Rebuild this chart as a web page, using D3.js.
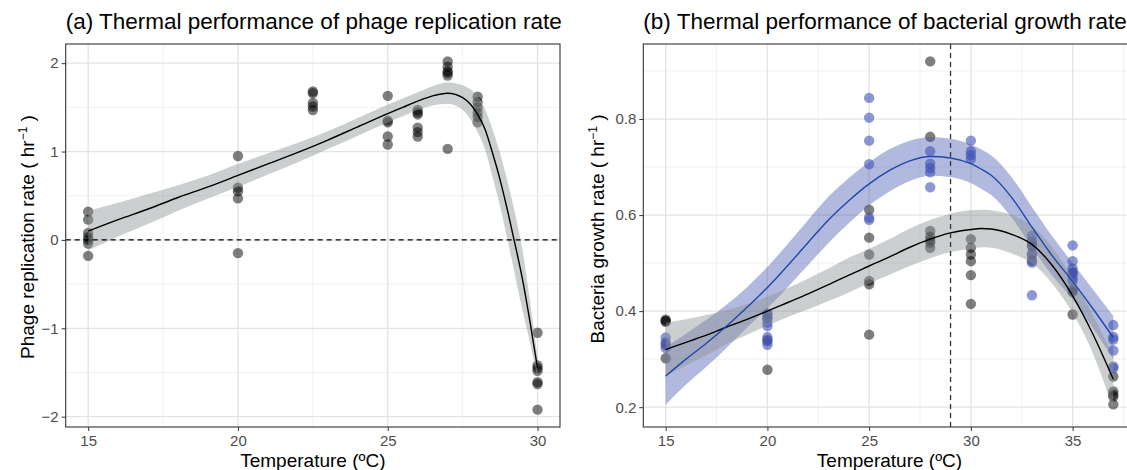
<!DOCTYPE html>
<html>
<head>
<meta charset="utf-8">
<script src="https://cdn.jsdelivr.net/npm/d3@7"></script>
<style>
	body { margin: 0; background: #fff; }
	svg { display: block; font-family: "Liberation Sans", Arial, Helvetica, sans-serif; }
</style>
</head>
<body>
<svg id="chart" width="1127" height="470"></svg>
<script>

// ---- (a) phage replication rate ----
const PHAGE_T = [15, 15, 15, 15, 15, 15, 15,
	20, 20, 20, 20, 20,
	22.5, 22.5, 22.5, 22.5, 22.5,
	25, 25, 25, 25, 25,
	26, 26, 26, 26, 26, 26,
	27, 27, 27, 27, 27, 27,
	28, 28, 28, 28, 28, 28,
	30, 30, 30, 30, 30, 30, 30];
const PHAGE_RATE = [0.32, 0.23, 0.08, 0.03, 0.00, -0.04, -0.18,
	0.95, 0.59, 0.55, 0.47, -0.15,
	1.68, 1.66, 1.55, 1.51, 1.47,
	1.63, 1.35, 1.33, 1.17, 1.08,
	1.47, 1.44, 1.42, 1.27, 1.22, 1.17,
	2.02, 1.96, 1.91, 1.89, 1.86, 1.03,
	1.62, 1.56, 1.50, 1.44, 1.39, 1.33,
	-1.05, -1.42, -1.45, -1.48, -1.61, -1.63, -1.92];

const PHAGE_FIT_T = [15, 16, 17, 18, 19, 20, 21, 22, 23, 24, 25, 25.5, 26, 26.5, 27, 27.5, 28, 28.25, 28.5, 28.75, 29, 29.25, 29.5, 29.75, 30];
const PHAGE_FIT = [0.10, 0.23, 0.35, 0.48, 0.60, 0.73, 0.86, 0.99, 1.13, 1.28, 1.43, 1.50, 1.57, 1.63, 1.66, 1.61, 1.42, 1.25, 0.98, 0.68, 0.33, -0.05, -0.45, -0.93, -1.45];
const PHAGE_HI = [0.33, 0.42, 0.52, 0.62, 0.73, 0.86, 0.98, 1.10, 1.23, 1.38, 1.53, 1.60, 1.67, 1.74, 1.78, 1.75, 1.62, 1.48, 1.25, 0.98, 0.66, 0.30, -0.12, -0.70, -1.33];
const PHAGE_LO = [-0.12, 0.04, 0.18, 0.33, 0.47, 0.60, 0.74, 0.88, 1.03, 1.18, 1.33, 1.40, 1.47, 1.52, 1.54, 1.47, 1.22, 1.02, 0.71, 0.38, 0.00, -0.40, -0.80, -1.16, -1.57];

// ---- (b) bacterial growth rate: grey = bacteria alone, blue = second treatment ----
const GREY_T = [15, 15, 15, 15, 15,
	20, 20, 20, 20,
	25, 25, 25, 25, 25, 25,
	28, 28, 28, 28, 28, 28, 28,
	30, 30, 30, 30, 30, 30,
	33, 33, 33, 33,
	35, 35, 35, 35,
	37, 37, 37, 37, 37];
const GREY_RATE = [0.382, 0.380, 0.378, 0.330, 0.302,
	0.395, 0.385, 0.340, 0.278,
	0.611, 0.553, 0.518, 0.463, 0.456, 0.351,
	0.920, 0.763, 0.567, 0.555, 0.548, 0.543, 0.532,
	0.550, 0.532, 0.518, 0.504, 0.475, 0.415,
	0.545, 0.536, 0.520, 0.505,
	0.480, 0.445, 0.440, 0.393,
	0.264, 0.233, 0.226, 0.222, 0.206];

const BLUE_T = [15, 15, 15,
	20, 20, 20, 20, 20, 20, 20,
	25, 25, 25, 25, 25, 25,
	28, 28, 28, 28, 28,
	30, 30, 30, 30,
	33, 33, 33, 33, 33,
	35, 35, 35, 35, 35, 35,
	37, 37, 37, 37, 37, 37];
const BLUE_RATE = [0.345, 0.335, 0.323,
	0.393, 0.385, 0.376, 0.369, 0.346, 0.337, 0.330,
	0.844, 0.803, 0.755, 0.706, 0.595, 0.590,
	0.733, 0.707, 0.698, 0.689, 0.658,
	0.755, 0.733, 0.725, 0.717,
	0.557, 0.536, 0.515, 0.501, 0.433,
	0.537, 0.504, 0.489, 0.480, 0.470, 0.463,
	0.371, 0.346, 0.341, 0.318, 0.285, 0.281];

const FIT_T = [15, 16, 17, 18, 19, 20, 21, 22, 23, 24, 25, 26, 27, 28, 29, 30, 30.5, 31, 32, 33, 34, 35, 36, 37];
const GREY_FIT = [0.320, 0.335, 0.350, 0.367, 0.383, 0.400, 0.418, 0.436, 0.455, 0.475, 0.494, 0.513, 0.533, 0.550, 0.563, 0.570, 0.572, 0.571, 0.560, 0.539, 0.495, 0.432, 0.352, 0.258];
const GREY_HI = [0.376, 0.383, 0.392, 0.402, 0.415, 0.430, 0.448, 0.468, 0.489, 0.511, 0.530, 0.550, 0.572, 0.590, 0.603, 0.610, 0.611, 0.610, 0.600, 0.578, 0.533, 0.468, 0.392, 0.305];
const GREY_LO = [0.264, 0.287, 0.308, 0.332, 0.351, 0.370, 0.388, 0.404, 0.421, 0.439, 0.458, 0.476, 0.494, 0.510, 0.523, 0.530, 0.533, 0.532, 0.520, 0.500, 0.457, 0.396, 0.312, 0.195];
const BLUE_FIT = [0.265, 0.300, 0.333, 0.369, 0.408, 0.449, 0.495, 0.543, 0.590, 0.630, 0.665, 0.693, 0.713, 0.722, 0.719, 0.707, 0.696, 0.683, 0.637, 0.575, 0.515, 0.462, 0.405, 0.345];
const BLUE_HI = [0.325, 0.353, 0.382, 0.414, 0.450, 0.492, 0.540, 0.590, 0.638, 0.677, 0.710, 0.737, 0.755, 0.762, 0.759, 0.747, 0.737, 0.724, 0.679, 0.617, 0.556, 0.500, 0.445, 0.390];
const BLUE_LO = [0.205, 0.247, 0.284, 0.324, 0.366, 0.406, 0.450, 0.496, 0.542, 0.583, 0.620, 0.649, 0.671, 0.682, 0.679, 0.667, 0.655, 0.642, 0.595, 0.533, 0.474, 0.424, 0.365, 0.300];

const A_XTICKS = [15, 20, 25, 30];
const A_YTICKS = [-2, -1, 0, 1, 2];
const B_XTICKS = [15, 20, 25, 30, 35];
const B_YTICKS = [0.2, 0.4, 0.6, 0.8];
const OPT_TEMP = 29;

const GREY_COL = "#8c9595";
const BLUE_FILL = "#3f4fb0";
const BLUE_LINE = "#2146a8";
const BLUE_PT = "#3f51b5";

// ggplot-style 5% expansion
function expand(lo, hi) {
	const d = (hi - lo) * 0.05;
	return [lo - d, hi + d];
}

function zip(xs, ys) {
	return xs.map((x, i) => ({ x: x, y: ys[i] }));
}

function band(xs, lo, hi) {
	return xs.map((x, i) => ({ x: x, lo: lo[i], hi: hi[i] }));
}

const svg = d3.select("#chart");

function panel(opts) {
	const g = svg.append("g");
	const x = d3.scaleLinear().domain(opts.xDomain).range([opts.left, opts.right]);
	const y = d3.scaleLinear().domain(opts.yDomain).range([opts.bottom, opts.top]);

	const clipId = "clip-" + opts.id;
	svg.append("clipPath").attr("id", clipId)
		.append("rect")
		.attr("x", opts.left).attr("y", opts.top)
		.attr("width", opts.right - opts.left).attr("height", opts.bottom - opts.top);

	const plot = g.append("g").attr("clip-path", `url(#${clipId})`);

	// minor grid halfway between the major ticks
	const xStep = opts.xTicks[1] - opts.xTicks[0];
	const yStep = opts.yTicks[1] - opts.yTicks[0];
	const xMinor = opts.xTicks.map(t => t + xStep / 2);
	const yMinor = opts.yTicks.map(t => t + yStep / 2).concat([opts.yTicks[0] - yStep / 2]);

	plot.append("g").selectAll("line").data(xMinor).enter().append("line")
		.attr("x1", d => x(d)).attr("x2", d => x(d))
		.attr("y1", opts.top).attr("y2", opts.bottom)
		.attr("stroke", "#ebebeb").attr("stroke-width", 0.7);
	plot.append("g").selectAll("line").data(yMinor).enter().append("line")
		.attr("y1", d => y(d)).attr("y2", d => y(d))
		.attr("x1", opts.left).attr("x2", opts.right)
		.attr("stroke", "#ebebeb").attr("stroke-width", 0.7);
	plot.append("g").selectAll("line").data(opts.xTicks).enter().append("line")
		.attr("x1", d => x(d)).attr("x2", d => x(d))
		.attr("y1", opts.top).attr("y2", opts.bottom)
		.attr("stroke", "#e3e3e3").attr("stroke-width", 1.3);
	plot.append("g").selectAll("line").data(opts.yTicks).enter().append("line")
		.attr("y1", d => y(d)).attr("y2", d => y(d))
		.attr("x1", opts.left).attr("x2", opts.right)
		.attr("stroke", "#e3e3e3").attr("stroke-width", 1.3);

	// axes
	const xAxis = d3.axisBottom(x).tickValues(opts.xTicks).tickSize(4).tickPadding(3).tickFormat(d3.format("d"));
	const yAxis = d3.axisLeft(y).tickValues(opts.yTicks).tickSize(4).tickPadding(3).tickFormat(opts.yFormat);
	const gx = g.append("g").attr("transform", `translate(0,${opts.bottom})`).call(xAxis);
	const gy = g.append("g").attr("transform", `translate(${opts.left},0)`).call(yAxis);
	[gx, gy].forEach(a => {
		a.select(".domain").remove();
		a.selectAll(".tick line").attr("stroke", "#333").attr("stroke-width", 1);
		a.selectAll(".tick text").attr("fill", "#4d4d4d").style("font-size", "15px")
			.style("font-family", "'Liberation Sans', Arial, sans-serif");
	});
	gx.selectAll(".tick text").attr("dy", "0.8em");

	// titles
	g.append("text")
		.attr("x", opts.left).attr("y", 29)
		.style("font-size", "22.5px").attr("fill", "#000")
		.text(opts.title);
	g.append("text")
		.attr("x", (opts.left + opts.right) / 2)
		.attr("y", 467)
		.attr("text-anchor", "middle")
		.style("font-size", "19px")
		.text("Temperature (ºC)");
	const yt = g.append("text")
		.attr("transform", `translate(${opts.yTitleX},${opts.yTitleY}) rotate(-90)`)
		.attr("text-anchor", "middle")
		.style("font-size", "19px");
	yt.append("tspan").text(opts.yTitle + " ( hr");
	yt.append("tspan").attr("baseline-shift", "super").style("font-size", "12px").text("\u22121");
	yt.append("tspan").text(" )");

	return { g: g, plot: plot, x: x, y: y, opts: opts };
}

function drawPoints(p, data, color, opacity) {
	p.plot.append("g").selectAll("circle").data(data).enter().append("circle")
		.attr("cx", d => p.x(d.x)).attr("cy", d => p.y(d.y))
		.attr("r", 5.2)
		.attr("fill", color).attr("fill-opacity", opacity);
}

function drawFit(p, bandData, lineData, fill, fillOpacity, stroke) {
	const area = d3.area().curve(d3.curveMonotoneX)
		.x(d => p.x(d.x)).y0(d => p.y(d.lo)).y1(d => p.y(d.hi));
	const line = d3.line().curve(d3.curveMonotoneX)
		.x(d => p.x(d.x)).y(d => p.y(d.y));
	p.plot.append("path").datum(bandData)
		.attr("d", area).attr("fill", fill).attr("fill-opacity", fillOpacity);
	return () => p.plot.append("path").datum(lineData)
		.attr("d", line).attr("fill", "none").attr("stroke", stroke).attr("stroke-width", 1.4);
}

function border(p) {
	const o = p.opts;
	p.g.append("rect")
		.attr("x", o.left).attr("y", o.top)
		.attr("width", o.right - o.left).attr("height", o.bottom - o.top)
		.attr("fill", "none").attr("stroke", "#333").attr("stroke-width", 1.1);
}

// ---- panel (a)
const phagePts = zip(PHAGE_T, PHAGE_RATE);
const pa = panel({
	id: "a",
	left: 65.7, right: 560, top: 44, bottom: 427,
	xDomain: expand(d3.min(PHAGE_T), d3.max(PHAGE_T)),
	yDomain: expand(d3.min(PHAGE_RATE), d3.max(PHAGE_RATE)),
	xTicks: A_XTICKS, yTicks: A_YTICKS,
	yFormat: d => d < 0 ? "\u2212" + Math.abs(d) : String(d),
	title: "(a) Thermal performance of phage replication rate",
	yTitle: "Phage replication rate",
	yTitleX: 34, yTitleY: 237
});
drawPoints(pa, phagePts, "#000", 0.5);
const lineA = drawFit(pa, band(PHAGE_FIT_T, PHAGE_LO, PHAGE_HI), zip(PHAGE_FIT_T, PHAGE_FIT), GREY_COL, 0.45, "#000");
pa.plot.append("line")
	.attr("x1", pa.opts.left).attr("x2", pa.opts.right)
	.attr("y1", pa.y(0)).attr("y2", pa.y(0))
	.attr("stroke", "#000").attr("stroke-width", 1.1).attr("stroke-dasharray", "5,4");
lineA();
border(pa);

// ---- panel (b)
const allB = GREY_RATE.concat(BLUE_RATE, GREY_LO, BLUE_LO, GREY_HI, BLUE_HI);
const pb = panel({
	id: "b",
	left: 643.3, right: 1135.7, top: 44, bottom: 427,
	xDomain: expand(d3.min(FIT_T), d3.max(FIT_T)),
	yDomain: expand(d3.min(allB), d3.max(allB)),
	xTicks: B_XTICKS, yTicks: B_YTICKS,
	yFormat: d3.format(".1f"),
	title: "(b) Thermal performance of bacterial growth rate",
	yTitle: "Bacteria growth rate",
	yTitleX: 604, yTitleY: 229
});
drawPoints(pb, zip(GREY_T, GREY_RATE), "#000", 0.5);
drawPoints(pb, zip(BLUE_T, BLUE_RATE), BLUE_PT, 0.6);
const lineBlue = drawFit(pb, band(FIT_T, BLUE_LO, BLUE_HI), zip(FIT_T, BLUE_FIT), BLUE_FILL, 0.4, BLUE_LINE);
const lineGrey = drawFit(pb, band(FIT_T, GREY_LO, GREY_HI), zip(FIT_T, GREY_FIT), GREY_COL, 0.45, "#000");
lineGrey();
lineBlue();
pb.plot.append("line")
	.attr("x1", pb.x(OPT_TEMP)).attr("x2", pb.x(OPT_TEMP))
	.attr("y1", pb.opts.top).attr("y2", pb.opts.bottom)
	.attr("stroke", "#333").attr("stroke-width", 1.3).attr("stroke-dasharray", "5,4");
border(pb);

</script>
</body>
</html>
